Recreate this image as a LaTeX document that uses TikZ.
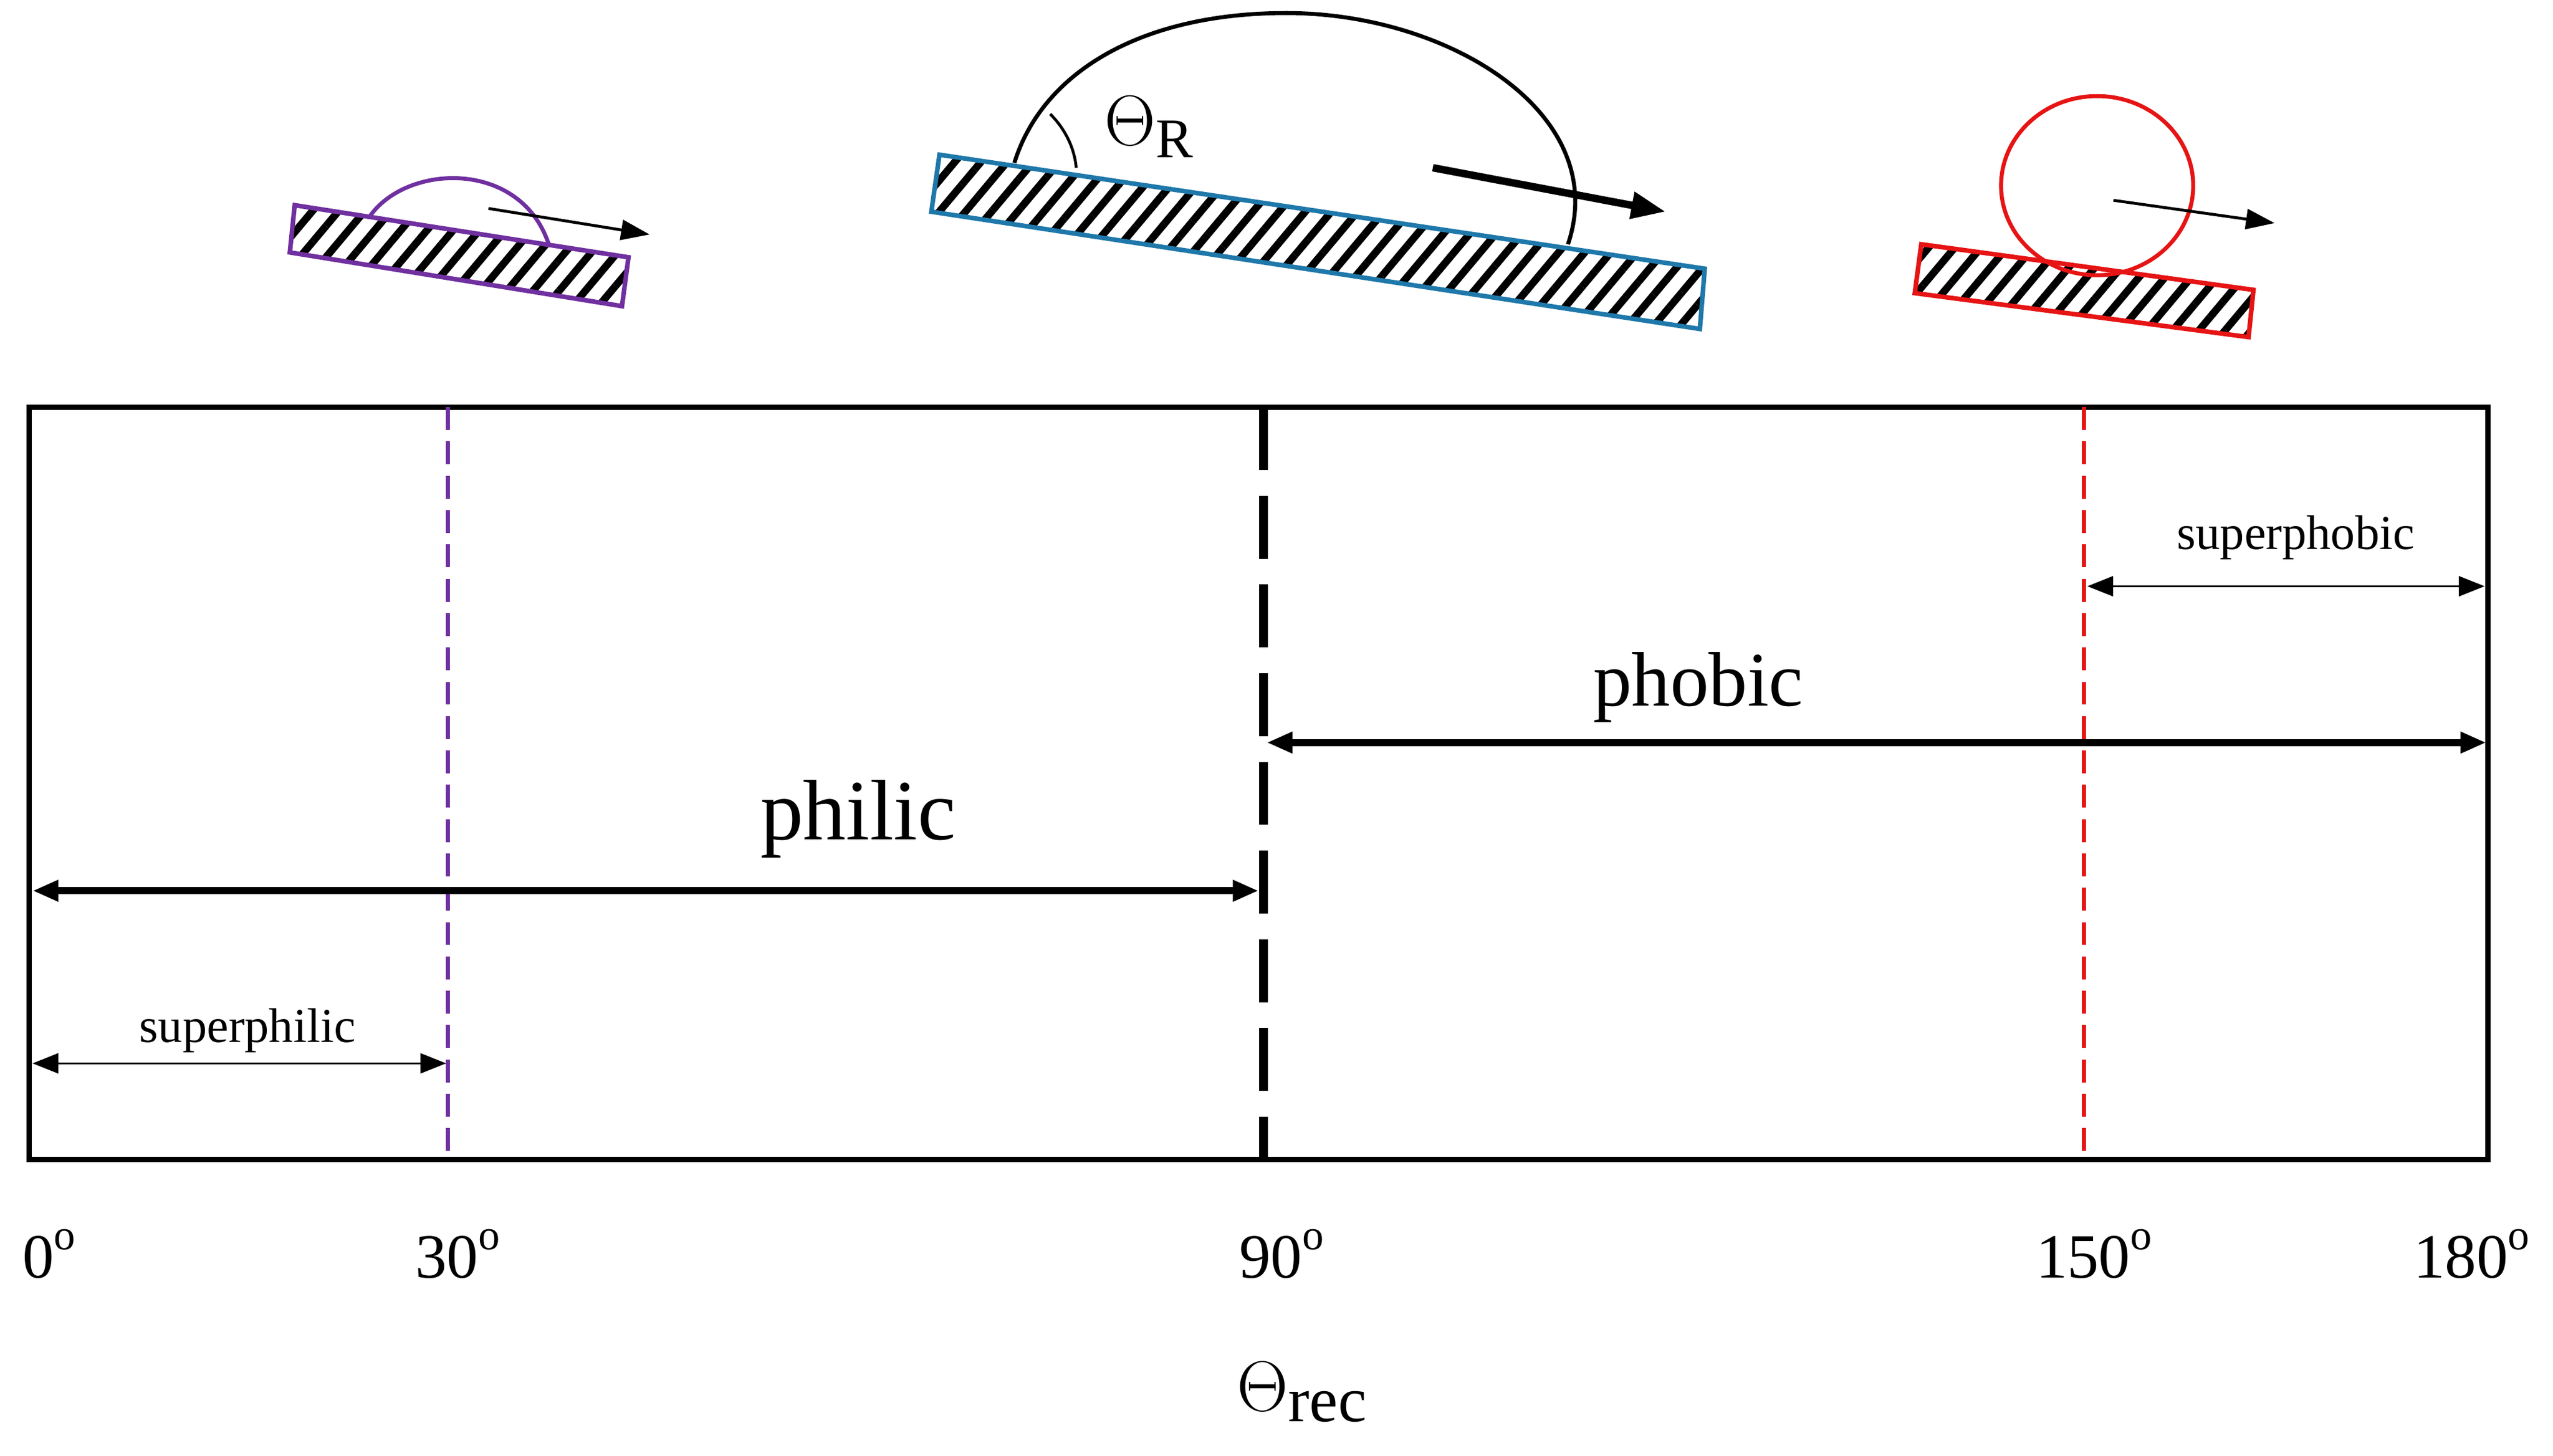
\documentclass[tikz,border=0pt]{standalone}
\usepackage{fontspec}
\setmainfont{Liberation Serif}
\usetikzlibrary{arrows.meta,patterns.meta}
\definecolor{pur}{RGB}{112,48,160}
\definecolor{blu}{RGB}{31,120,170}
\definecolor{rd}{RGB}{230,20,20}
\tikzset{
  slab/.style={line width=1.6pt,pattern={Lines[angle=50,distance=7pt,line width=2.6pt]}},
  dim/.style={{Triangle[length=9pt,width=7pt]}-{Triangle[length=9pt,width=7pt]}},
  tick/.style={font=\fontsize{22}{24}\selectfont},
  lab/.style={font=\fontsize{17}{19}\selectfont},
  thindash/.style={line width=1.4pt,dash pattern=on 8pt off 4pt}
}
\newcommand{\dg}{\raisebox{0.45em}{\fontsize{15}{15}\selectfont o}}
\begin{document}
\begin{tikzpicture}[x=0.02cm,y=-0.02cm]
\useasboundingbox (0,0) rectangle (1568,894);
% frame
\draw[line width=1.8pt] (18,250) rectangle (1528,712);
\draw[pur,thindash] (275,250) -- (275,712);
\draw[line width=3pt,dash pattern=on 22pt off 9pt] (776,250) -- (776,712);
\draw[rd,thindash] (1280,250) -- (1280,712);
% arrows
\coordinate (sp1) at (1282,360); \coordinate (sp2) at (1526,360);
\draw[dim,line width=0.6pt] (sp1) -- (sp2);
\node[lab] (sptxt) at (1410,330) {superphobic};
\coordinate (ph1) at (778,456); \coordinate (ph2) at (1527,456);
\draw[dim,line width=2.4pt] (ph1) -- (ph2);
\node[font=\fontsize{27}{30}\selectfont] (phtxt) at (1043,422) {phobic};
\coordinate (pl1) at (20,547); \coordinate (pl2) at (773,547);
\draw[dim,line width=2.4pt] (pl1) -- (pl2);
\node[font=\fontsize{30}{32}\selectfont] (pltxt) at (527,503) {philic};
\coordinate (sl1) at (20,653); \coordinate (sl2) at (274,653);
\draw[dim,line width=0.6pt] (sl1) -- (sl2);
\node[lab] (sltxt) at (152,633) {superphilic};
% ticks
\node[tick] (t0) at (30,770) {0\dg};
\node[tick] (t30) at (281,770) {30\dg};
\node[tick] (t90) at (787,770) {90\dg};
\node[tick] (t150) at (1286,770) {150\dg};
\node[tick] (t180) at (1518,770) {180\dg};
\node[font=\fontsize{32}{34}\selectfont] (theta) at (800,855) {$\Theta$\textsubscript{rec}};
% purple drop
\draw[pur,slab] (181,126) -- (386,158) -- (382,188) -- (178,155) -- cycle;
\draw[pur,line width=1.4pt] (227,133) .. controls (250,100) and (320,98) .. (337,150);
\coordinate (pa1) at (300,128); \coordinate (pa2) at (399,144);
\draw[-{Triangle[length=10pt,width=7pt]},line width=1pt] (pa1) -- (pa2);
% blue drop
\draw[blu,slab] (577,95) -- (1047,165) -- (1044,202) -- (572,130) -- cycle;
\draw[line width=1.4pt] (623,100) .. controls (640,45) and (700,8) .. (790,8)
  .. controls (890,8) and (990,70) .. (963,150);
\draw[line width=1pt] (645,70) .. controls (655,80) and (660,92) .. (661,103);
\node[font=\fontsize{28}{30}\selectfont] (thr) at (706,78) {$\Theta$\textsubscript{R}};
\coordinate (ba1) at (880,103); \coordinate (ba2) at (1023,130);
\draw[-{Triangle[length=12pt,width=9pt]},line width=2.6pt] (ba1) -- (ba2);
% red drop
\draw[rd,slab] (1180,150) -- (1384,178) -- (1381,207) -- (1176,180) -- cycle;
\draw[rd,line width=1.4pt] (1288,114) ellipse [x radius=59,y radius=55];
\coordinate (ra1) at (1298,123); \coordinate (ra2) at (1397,137);
\draw[-{Triangle[length=10pt,width=7pt]},line width=1pt] (ra1) -- (ra2);
\end{tikzpicture}
\end{document}
